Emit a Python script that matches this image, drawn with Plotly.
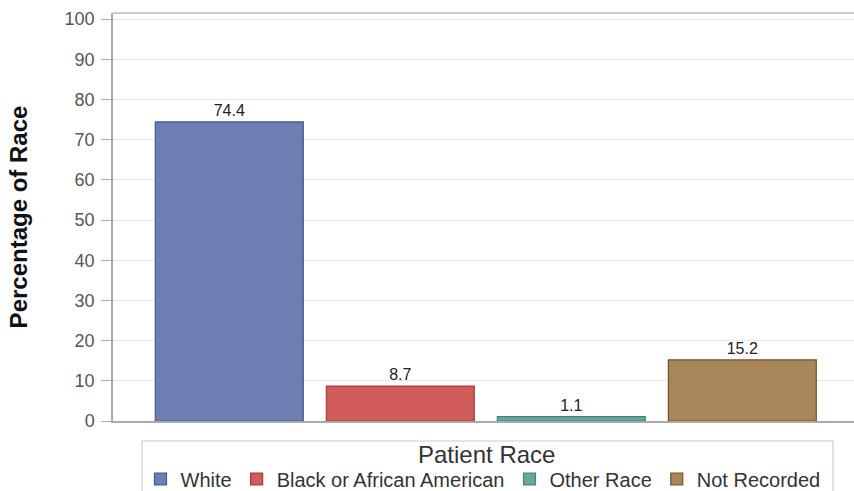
import plotly.graph_objects as go

categories = ["White", "Black or African American", "Other Race", "Not Recorded"]
values = [74.4, 8.7, 1.1, 15.2]
labels = ["74.4", "8.7", "1.1", "15.2"]
fills = ["#6f7eb2", "#d05b5b", "#66a89d", "#a88659"]
borders = ["#45558f", "#a83a3a", "#3f8276", "#6f5229"]

FONT = "Liberation Sans, Arial"

fig = go.Figure()
for i, (c, v, t) in enumerate(zip(categories, values, labels)):
    fig.add_trace(go.Bar(
        x=[i], y=[v], name=c, text=[t], textposition="outside",
        textfont=dict(size=16, color="#222", family=FONT),
        marker=dict(color=fills[i], line=dict(color=borders[i], width=1.2)),
        width=0.865, cliponaxis=False,
    ))

# plot domain in pixels: x 113..854, y 13..421
def px_x(p):
    return (p - 113) / 741.0

def px_y(p):
    return (421 - p) / 408.0

fig.update_layout(
    width=854, height=491,
    margin=dict(l=113, r=0, t=13, b=70, autoexpand=False),
    paper_bgcolor="white", plot_bgcolor="white",
    font=dict(family=FONT, color="#555"),
    barmode="overlay",
    showlegend=True,
    xaxis=dict(range=[-0.68, 3.653], showticklabels=False, showgrid=False,
               zeroline=False, showline=True, linecolor="#aaa", linewidth=1.5,
               fixedrange=True, automargin=False),
    yaxis=dict(range=[0, 101.5], tickvals=list(range(0, 101, 10)),
               tickfont=dict(size=18, color="#555", family=FONT),
               ticks="outside", ticklen=10, tickcolor="#aaa",
               ticklabelstandoff=3,
               showgrid=True, gridcolor="#e8e8e8", gridwidth=1,
               zeroline=False, showline=True, linecolor="#aaa", linewidth=1.5,
               automargin=False,
               title=dict(text="<b>Percentage of Race</b>",
                          font=dict(size=24, color="#111", family=FONT), standoff=30)),
    legend=dict(orientation="h", x=px_x(483), xanchor="center",
                y=px_y(479), yanchor="middle",
                borderwidth=0, bgcolor="rgba(0,0,0,0)",
                font=dict(size=20, color="#333", family=FONT),
                itemwidth=30),
)
fig.add_shape(type="line", xref="paper", yref="paper", x0=0, x1=1, y0=1, y1=1,
              line=dict(color="#bbb", width=1.5))
fig.add_shape(type="rect", xref="paper", yref="paper",
              x0=px_x(142), x1=px_x(833), y0=px_y(441), y1=px_y(500),
              line=dict(color="#ccc", width=1.2), layer="below")
fig.add_annotation(text="Patient Race", xref="paper", yref="paper",
                   x=px_x(486), y=px_y(455), xanchor="center", yanchor="middle",
                   showarrow=False, font=dict(size=24, color="#333", family=FONT))

fig.write_html("out.html", config={"displayModeBar": False},
               post_script="document.body.style.margin='0';")
